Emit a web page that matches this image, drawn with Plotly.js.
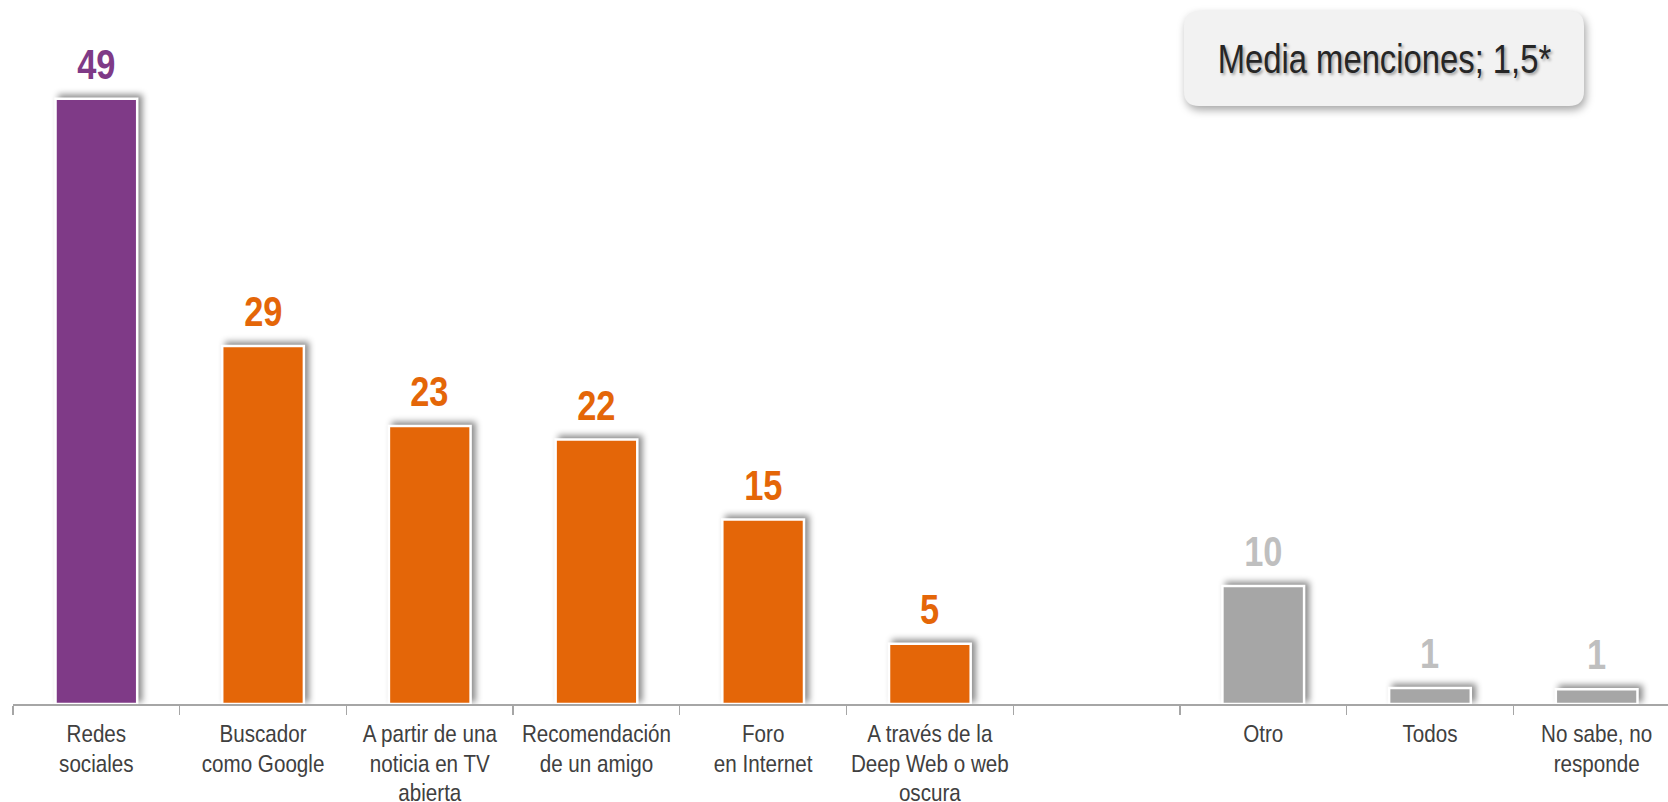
<!DOCTYPE html>
<html>
<head>
<meta charset="utf-8">
<script src="https://cdn.plot.ly/plotly-3.0.1.min.js"></script>
<style>
  html, body { margin: 0; padding: 0; background: #ffffff; }
  #chart { width: 1668px; height: 802px; }
  .barlayer .point path { filter: drop-shadow(4px -3px 3px rgba(0,0,0,0.45)); }
  .shapelayer path { filter: drop-shadow(2px 4px 4px rgba(0,0,0,0.35)); }
</style>
</head>
<body>
<div id="chart"></div>
<script>
// ---- data ----
const categories = [
  "Redes<br>sociales",
  "Buscador<br>como Google",
  "A partir de una<br>noticia en TV<br>abierta",
  "Recomendación<br>de un amigo",
  "Foro<br>en Internet",
  "A través de la<br>Deep Web o web<br>oscura",
  " ",
  "Otro",
  "Todos",
  "No sabe, no<br>responde"
];
// percentages (labels show rounded values)
const values = [49.2, 29.1, 22.6, 21.5, 15.0, 4.9, null, 9.6, 1.3, 1.2];
const noteText = "Media menciones; 1,5*";

// ---- styles ----
const PURPLE = "#7F3A87", ORANGE = "#E46608", GREY = "#A6A6A6", LGREY = "#BFBFBF";
const barColors = [PURPLE, ORANGE, ORANGE, ORANGE, ORANGE, ORANGE, GREY, GREY, GREY, GREY];
const labelColors = [PURPLE, ORANGE, ORANGE, ORANGE, ORANGE, ORANGE, LGREY, LGREY, LGREY, LGREY];
const FONT = '"Liberation Sans", Arial, sans-serif';

const trace = {
  type: "bar",
  x: categories,
  y: values,
  width: 0.49,
  marker: { color: barColors, line: { color: "#ffffff", width: 2.5 } },
  hoverinfo: "x+y",
  cliponaxis: false
};

const labelAnnotations = categories.map((c, i) => values[i] == null ? null : ({
  x: c, y: values[i], xref: "x", yref: "y",
  text: String(Math.round(values[i])),
  showarrow: false, yanchor: "bottom", yshift: 9,
  font: { family: FONT, size: 42, color: labelColors[i], weight: "bold" }
})).filter(a => a);

// rounded box (paper coords)
const W = 1668, H = 802, ML = 13, MR = 0, MT = 0, MB = 98;
const pw = W - ML - MR, ph = H - MT - MB;
function px2x(px) { return (px - ML) / pw; }
function py2y(py) { return 1 - (py - MT) / ph; }
const bx0 = 1184, bx1 = 1584, by0 = 11, by1 = 106, r = 15;
function P(x, y) { return px2x(x).toFixed(5) + "," + py2y(y).toFixed(5); }
const boxPath = "M" + P(bx0 + r, by0) + " L" + P(bx1 - r, by0) + " Q" + P(bx1, by0) + " " + P(bx1, by0 + r) +
  " L" + P(bx1, by1 - r) + " Q" + P(bx1, by1) + " " + P(bx1 - r, by1) +
  " L" + P(bx0 + r, by1) + " Q" + P(bx0, by1) + " " + P(bx0, by1 - r) +
  " L" + P(bx0, by0 + r) + " Q" + P(bx0, by0) + " " + P(bx0 + r, by0) + " Z";

const layout = {
  width: W, height: H,
  margin: { l: ML, r: MR, t: MT, b: MB, pad: 0 },
  paper_bgcolor: "#ffffff", plot_bgcolor: "#ffffff",
  showlegend: false,
  xaxis: {
    type: "category",
    range: [-0.5, -0.5 + pw / 166.7],
    showline: true, linecolor: "#A6A6A6", linewidth: 1.5,
    ticks: "outside", tickson: "boundaries", ticklen: 9, tickcolor: "#A6A6A6", tickwidth: 1.2,
    ticklabelstandoff: 8,
    tickfont: { family: FONT, size: 24, color: "#404040" },
    tickangle: 0, showgrid: false, zeroline: false, fixedrange: true
  },
  yaxis: {
    range: [0, ph / 12.3],
    visible: false, showgrid: false, zeroline: false, fixedrange: true
  },
  shapes: [{
    type: "path", xref: "paper", yref: "paper", path: boxPath,
    fillcolor: "#F2F2F2", line: { width: 0 }, layer: "above"
  }],
  annotations: labelAnnotations.concat([{
    xref: "paper", yref: "paper",
    x: px2x((bx0 + bx1) / 2), y: py2y((by0 + by1) / 2),
    xanchor: "center", yanchor: "middle", showarrow: false,
    text: noteText,
    font: { family: FONT, size: 40, color: "#262626", shadow: "2px 2px 3px rgba(0,0,0,0.35)" }
  }])
};

Plotly.newPlot("chart", [trace], layout, { displayModeBar: false, staticPlot: true }).then(() => {
  // tighter line spacing for multi-line tick labels
  document.querySelectorAll("#chart svg .xtick text tspan.line").forEach(ts => {
    const dy = ts.getAttribute("dy");
    if (dy && /em$/.test(dy)) ts.setAttribute("dy", (parseFloat(dy) * 1.22 / 1.3) + "em");
  });
  // narrow text face: compress horizontally around each text's centre
  document.querySelectorAll("#chart svg text").forEach(el => {
    const bb = el.getBBox();
    if (!bb.width) return;
    const k = el.closest(".xtick") ? 0.86 : 0.82;
    const cx = bb.x + bb.width / 2;
    const t = el.getAttribute("transform") || "";
    el.setAttribute("transform", t + " translate(" + cx + ",0) scale(" + k + ",1) translate(" + (-cx) + ",0)");
  });
});
</script>
</body>
</html>
